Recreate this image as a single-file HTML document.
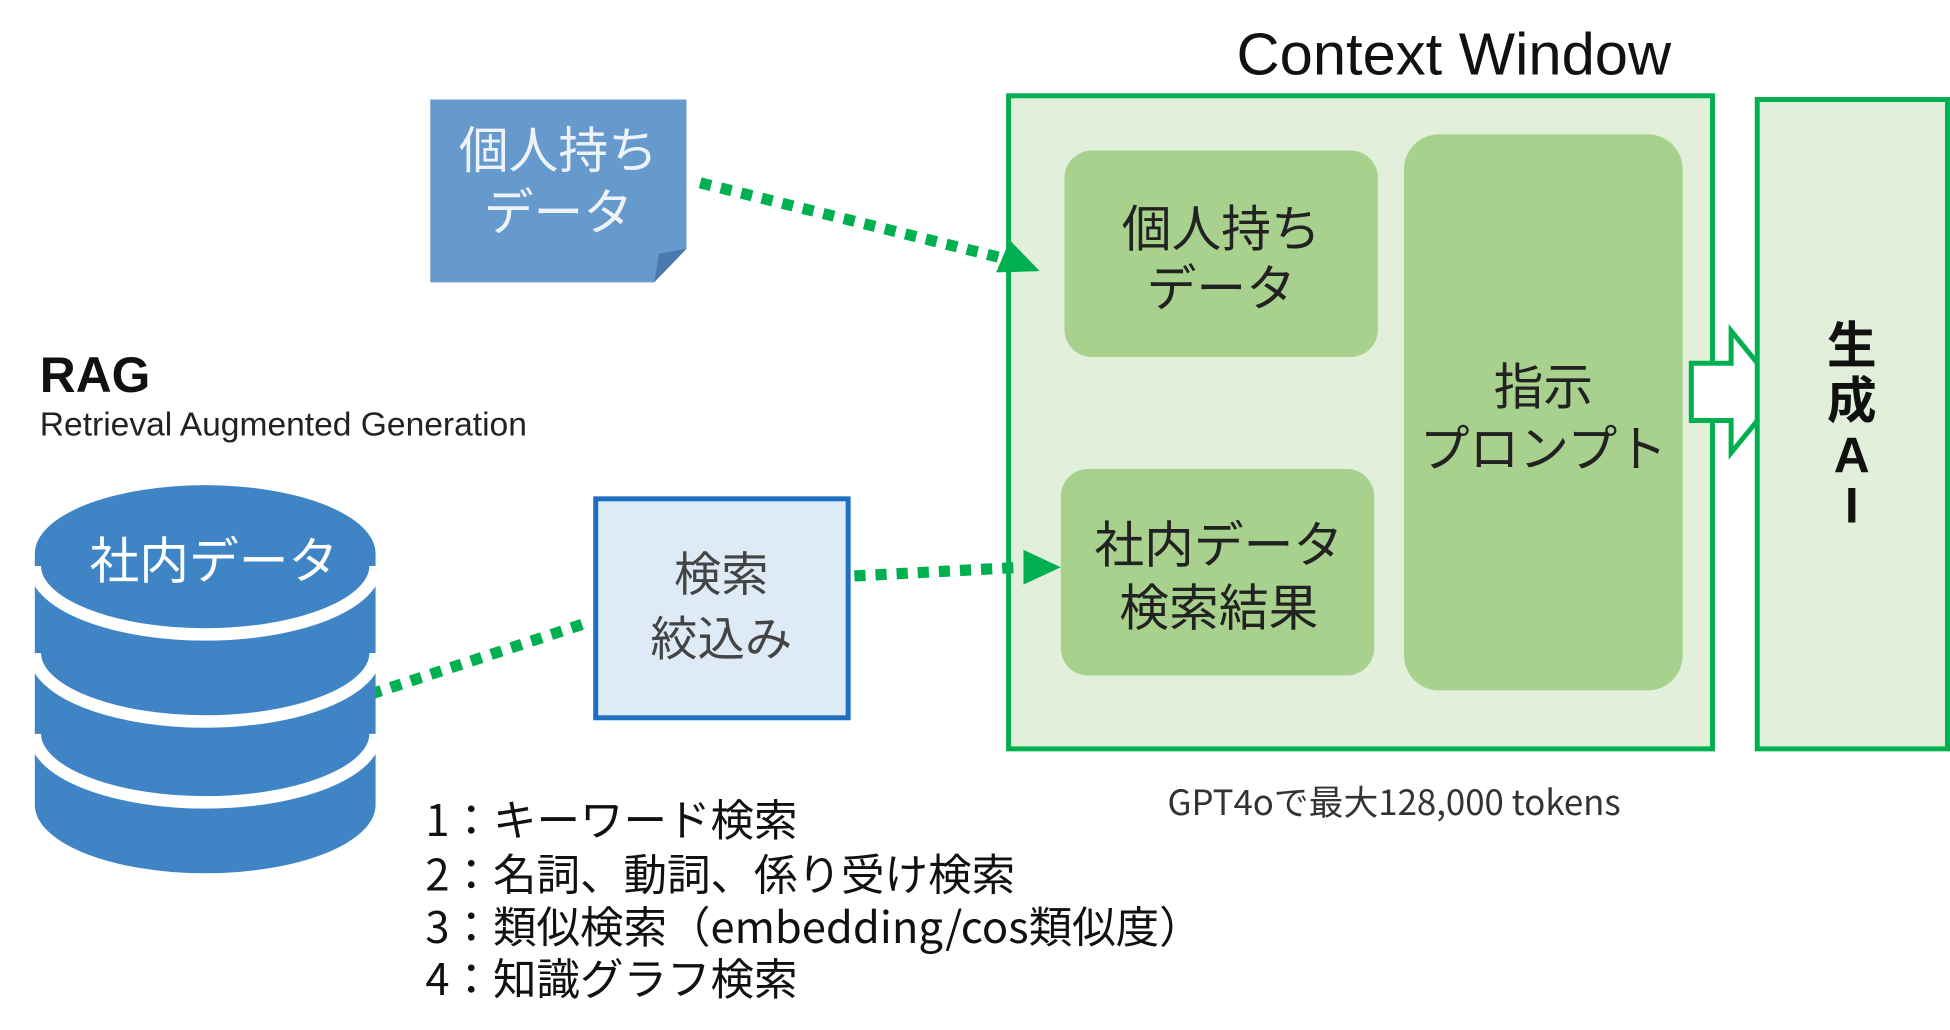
<!DOCTYPE html>
<html><head><meta charset="utf-8"><style>
html,body{margin:0;padding:0;background:#fff;}
svg{display:block;}
text{font-family:"Liberation Sans","Noto Sans CJK JP",sans-serif;}
.cjk, .cjk text{font-family:"Noto Sans CJK JP",sans-serif;}
</style></head><body>
<svg width="1950" height="1030" viewBox="0 0 1568 828" preserveAspectRatio="none" xmlns="http://www.w3.org/2000/svg">
<text x="1169" y="60" font-size="48" text-anchor="middle" fill="#111">Context Window</text>
<rect x="811" y="77" width="566" height="525" fill="#e2efda" stroke="#00b050" stroke-width="4"/>
<rect x="856" y="121" width="252" height="166" rx="22" fill="#a9d18e"/>
<text x="982" y="198" font-size="40" text-anchor="middle" fill="#222">個人持ち</text>
<text x="982" y="246" font-size="40" text-anchor="middle" fill="#222">データ</text>
<rect x="853" y="377" width="252" height="166" rx="22" fill="#a9d18e"/>
<text x="980" y="452" font-size="40" text-anchor="middle" fill="#222">社内データ</text>
<text x="980" y="503" font-size="40" text-anchor="middle" fill="#222">検索結果</text>
<rect x="1129" y="108" width="224" height="447" rx="28" fill="#a9d18e"/>
<text x="1241" y="325" font-size="40" text-anchor="middle" fill="#222">指示</text>
<text x="1241" y="375" font-size="40" text-anchor="middle" fill="#222">プロンプト</text>
<path d="M1360 292 H1392 V266 L1432 315 L1392 364 V338 H1360 Z" fill="#fff" stroke="#00b050" stroke-width="4"/>
<rect x="1413" y="80" width="153" height="522" fill="#e2efda" stroke="#00b050" stroke-width="4"/>
<g font-size="40" font-weight="bold" text-anchor="middle" fill="#111">
<text x="1489" y="292">生</text><text x="1489" y="336">成</text><text x="1489" y="380">A</text><text x="1489" y="420">I</text></g>
<path d="M346 80 H552 V200 L526 227 H346 Z" fill="#6699cc"/>
<path d="M526 227 L530 204 L552 200 Z" fill="#4a7ab0"/>
<text x="449" y="135" font-size="40" text-anchor="middle" fill="#eef3fa">個人持ち</text>
<text x="449" y="185" font-size="40" text-anchor="middle" fill="#eef3fa">データ</text>
<g stroke="#00b050" stroke-width="9" stroke-dasharray="9 8" fill="none">
<line x1="563" y1="147" x2="808" y2="208"/>
<line x1="298" y1="558" x2="474" y2="500"/>
<line x1="687" y1="463" x2="822" y2="456"/>
</g>
<path d="M836 218 L801 219 L812 193 Z" fill="#00b050"/>
<path d="M853 456 L823 442 L823 470 Z" fill="#00b050"/>
<text x="32" y="315" font-size="40" font-weight="bold" fill="#111">RAG</text>
<text x="32" y="350" font-size="27" fill="#222">Retrieval Augmented Generation</text>
<path d="M28 445 A137 55 0 0 1 302 445 V647 A137 55 0 0 1 28 647 Z" fill="#3f85c6"/>
<g stroke="#fff" stroke-width="10" fill="none">
<path d="M28 455 A137 55 0 0 0 302 455"/>
<path d="M28 525 A137 55 0 0 0 302 525"/>
<path d="M28 590 A137 55 0 0 0 302 590"/>
</g>
<text x="172" y="465" font-size="40" text-anchor="middle" fill="#fff">社内データ</text>
<rect x="479" y="401" width="203" height="176" fill="#deebf7" stroke="#1f6fc0" stroke-width="4"/>
<text x="580" y="475" font-size="38" text-anchor="middle" fill="#444">検索</text>
<text x="580" y="527" font-size="38" text-anchor="middle" fill="#444">絞込み</text>
<text class="cjk" x="1121" y="655" font-size="28" text-anchor="middle" fill="#333">GPT4oで最大128,000 tokens</text>
<g class="cjk" font-size="35" fill="#111">
<text x="342" y="672">1：キーワード検索</text>
<text x="342" y="716">2：名詞、動詞、係り受け検索</text>
<text x="342" y="758">3：類似検索（embedding/cos類似度）</text>
<text x="342" y="800">4：知識グラフ検索</text>
</g>
</svg>
</body></html>
